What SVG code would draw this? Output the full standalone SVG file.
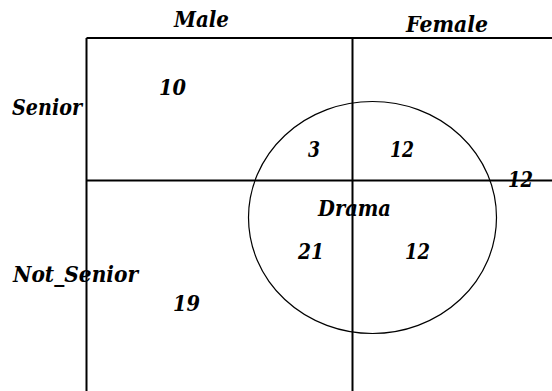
<svg xmlns="http://www.w3.org/2000/svg" width="552" height="391" viewBox="0 0 552 391">
<style>
.t{font-family:"DejaVu Serif","Liberation Serif",serif;font-weight:bold;font-style:italic;font-size:22px;fill:#000}
.ln{stroke:#000;stroke-width:2;fill:none}
.c{stroke:#000;stroke-width:1.2;fill:none}
</style>
<rect width="552" height="391" fill="#fff"/>
<g id="grid">
<line class="ln" x1="86.5" y1="38" x2="552" y2="38"/>
<line class="ln" x1="86.5" y1="38" x2="86.5" y2="391"/>
<line class="ln" x1="86.5" y1="180.5" x2="552" y2="180.5"/>
<line class="ln" x1="352.5" y1="38" x2="352.5" y2="391"/>
</g>
<g id="drama-circle">
<ellipse class="c" cx="372.5" cy="217.5" rx="124" ry="116"/>
</g>
<g id="headers">
<text class="t" x="174" y="27" textLength="55" lengthAdjust="spacingAndGlyphs">Male</text>
<text class="t" x="406" y="32" textLength="82" lengthAdjust="spacingAndGlyphs">Female</text>
<text class="t" x="12" y="115" textLength="70" lengthAdjust="spacingAndGlyphs">Senior</text>
<text class="t" x="13" y="282" textLength="125" lengthAdjust="spacingAndGlyphs">Not_Senior</text>
<text class="t" x="318" y="216" textLength="73" lengthAdjust="spacingAndGlyphs">Drama</text>
</g>
<g id="counts">
<text class="t" x="159" y="95" textLength="27" lengthAdjust="spacingAndGlyphs">10</text>
<text class="t" x="308" y="157" textLength="12" lengthAdjust="spacingAndGlyphs">3</text>
<text class="t" x="390" y="157" textLength="24" lengthAdjust="spacingAndGlyphs">12</text>
<text class="t" x="508" y="187" textLength="25" lengthAdjust="spacingAndGlyphs">12</text>
<text class="t" x="298" y="259" textLength="26" lengthAdjust="spacingAndGlyphs">21</text>
<text class="t" x="405" y="259" textLength="25" lengthAdjust="spacingAndGlyphs">12</text>
<text class="t" x="173" y="311" textLength="27" lengthAdjust="spacingAndGlyphs">19</text>
</g>
</svg>
